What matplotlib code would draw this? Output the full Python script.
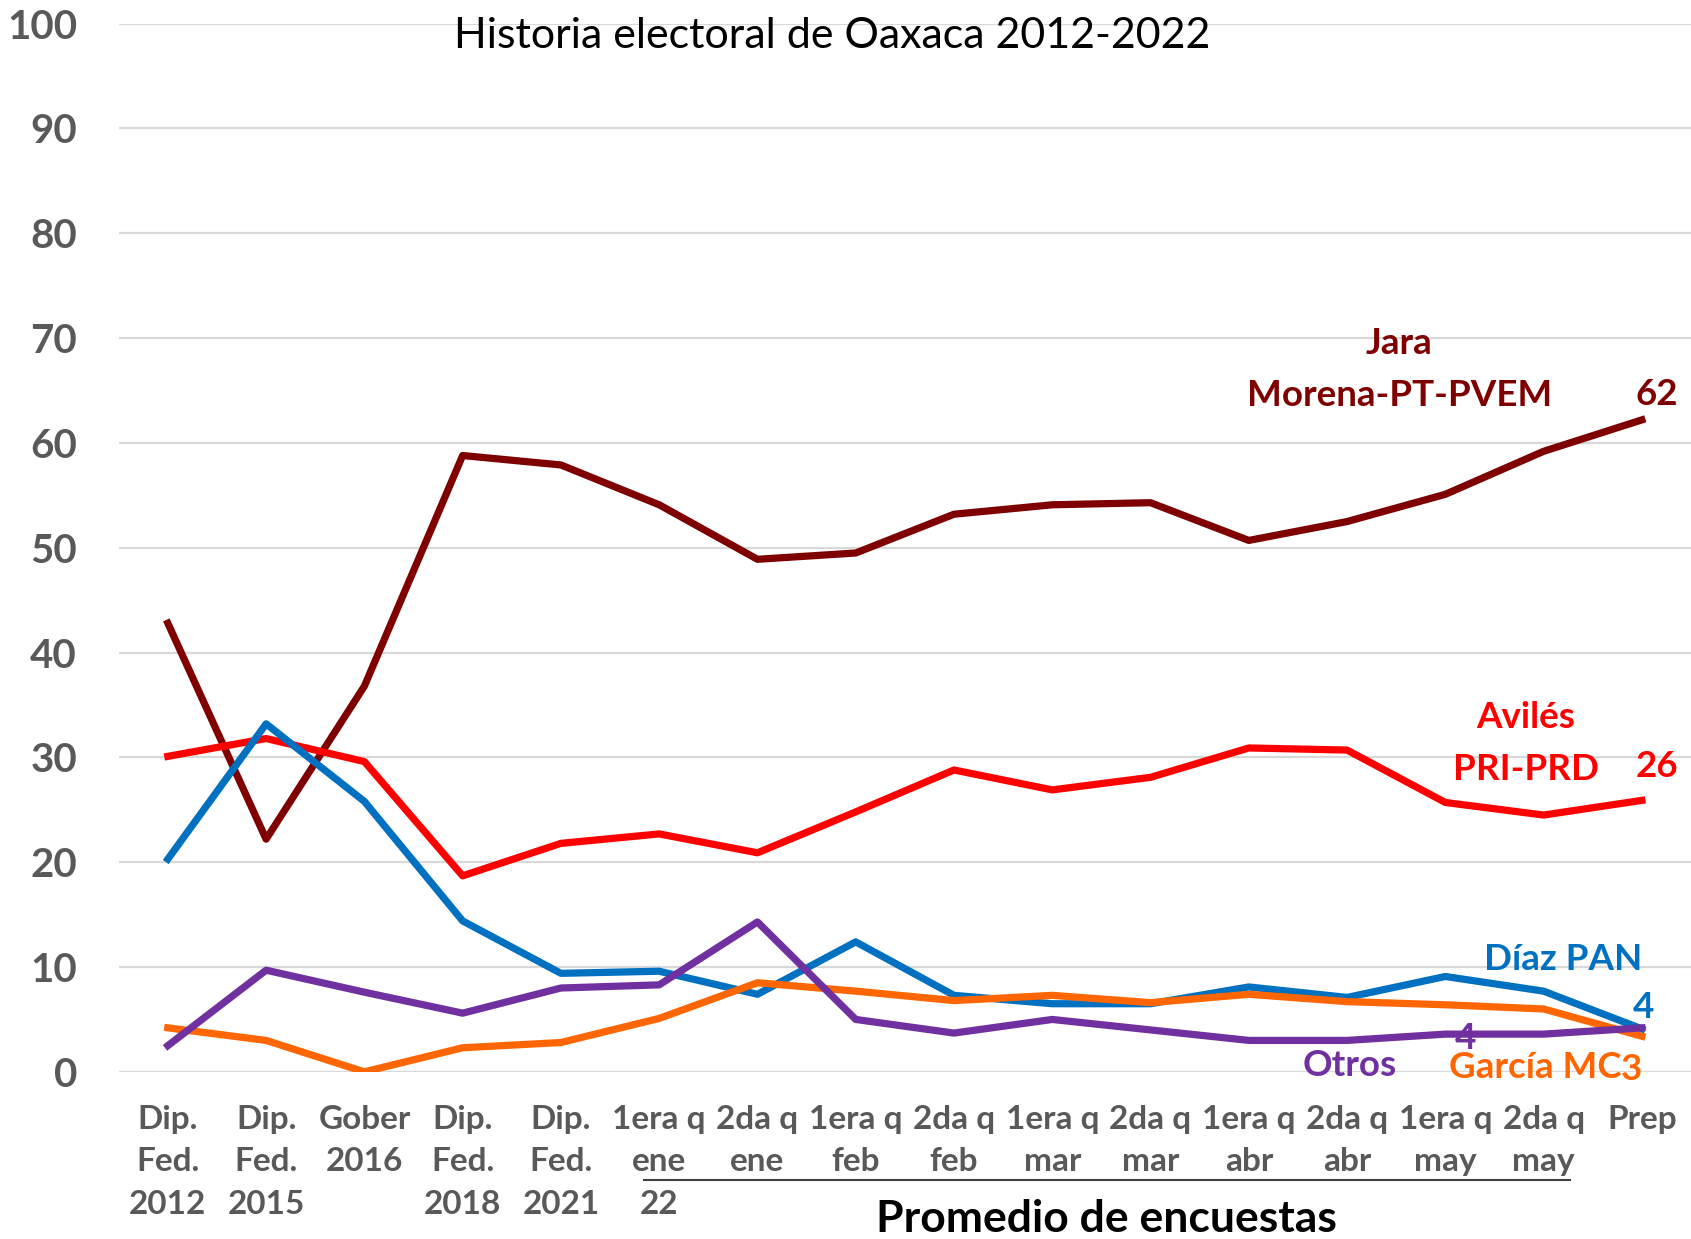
import matplotlib
matplotlib.use("Agg")
import matplotlib.pyplot as plt
import numpy as np

plt.rcParams['font.family'] = ['Lato', 'DejaVu Sans']

categories = ["Dip.\nFed.\n2012", "Dip.\nFed.\n2015", "Gober\n2016", "Dip.\nFed.\n2018",
              "Dip.\nFed.\n2021", "1era q\nene\n22", "2da q\nene", "1era q\nfeb", "2da q\nfeb",
              "1era q\nmar", "2da q\nmar", "1era q\nabr", "2da q\nabr", "1era q\nmay",
              "2da q\nmay", "Prep"]

jara = [42.8, 22.2, 36.8, 58.8, 57.9, 54.1, 48.9, 49.5, 53.2, 54.1, 54.3, 50.7, 52.5, 55.1, 59.2, 62.2]
aviles = [30.1, 31.8, 29.6, 18.7, 21.8, 22.7, 20.9, 24.8, 28.8, 26.9, 28.1, 30.9, 30.7, 25.7, 24.5, 25.9]
diaz = [20.3, 33.2, 25.8, 14.4, 9.4, 9.6, 7.4, 12.4, 7.3, 6.5, 6.5, 8.1, 7.1, 9.1, 7.7, 4.1]
otros = [2.5, 9.7, 7.6, 5.6, 8.0, 8.3, 14.3, 5.0, 3.7, 5.0, 4.0, 3.0, 3.0, 3.6, 3.6, 4.2]
garcia = [4.2, 3.0, 0.0, 2.3, 2.8, 5.1, 8.5, 7.7, 6.8, 7.3, 6.6, 7.4, 6.7, 6.4, 6.0, 3.4]

c_jara = "#7F0000"
c_aviles = "#FF0000"
c_diaz = "#0070C0"
c_otros = "#7030A0"
c_garcia = "#FF6600"

x = np.arange(len(categories))

fig = plt.figure(figsize=(16.91, 12.39), dpi=100)
ax = fig.add_axes([0.0702, 0.1349, 0.9298, 0.846])

lw = 5.2
ax.plot(x, jara, color=c_jara, lw=lw, solid_joinstyle='round', zorder=3)
ax.plot(x, aviles, color=c_aviles, lw=lw, solid_joinstyle='round', zorder=3)
ax.plot(x, diaz, color=c_diaz, lw=lw, solid_joinstyle='round', zorder=3)
ax.plot(x, otros, color=c_otros, lw=lw, solid_joinstyle='round', zorder=4)
ax.plot(x, garcia, color=c_garcia, lw=lw, solid_joinstyle='round', zorder=3)

ax.set_xlim(-0.5, len(categories) - 0.5)
ax.set_ylim(0, 100)
ax.set_yticks(range(0, 101, 10))
ax.set_xticks(x)
ax.set_xticklabels(categories, fontsize=24, fontweight='bold', color='#595959', linespacing=1.55, va='top')
ax.tick_params(axis='y', labelsize=29, labelcolor='#595959', length=0, pad=30)
ax.tick_params(axis='x', length=0, pad=24)
for t in ax.get_yticklabels():
    t.set_fontweight('bold')
ax.grid(axis='y', color='#D9D9D9', lw=1.6)
ax.set_axisbelow(True)
for s in ax.spines.values():
    s.set_visible(False)

# title
ax.text(6.76, 98.8, "Historia electoral de Oaxaca 2012-2022", fontsize=31, ha='center', va='center', color='black')

# series labels
bold = dict(fontweight='bold', fontsize=26.5)
ax.text(12.53, 67.0, "Jara\nMorena-PT-PVEM", color=c_jara, ha='center', va='center', linespacing=1.7, **bold)
ax.text(15.15, 64.6, f"{round(jara[-1])}", color=c_jara, ha='center', va='center', **bold)
ax.text(13.82, 31.3, "Avilés\nPRI-PRD", color=c_aviles, ha='center', va='center', linespacing=1.7, **bold)
ax.text(15.15, 29.1, f"{round(aviles[-1])}", color=c_aviles, ha='center', va='center', **bold)
ax.text(14.2, 10.7, "Díaz PAN", color=c_diaz, ha='center', va='center', **bold)
ax.text(15.02, 6.1, f"{round(diaz[-1])}", color=c_diaz, ha='center', va='center', **bold)
ax.text(12.03, 0.6, "Otros", color=c_otros, ha='center', va='center', **bold)
ax.text(13.21, 3.2, f"{round(otros[-1])}", color=c_otros, ha='center', va='center', **bold)
ax.text(14.79, 0.4, "García MC", color=c_garcia, ha='right', va='center', **bold)
ax.text(14.79, 0.2, f"{round(garcia[-1])}", color=c_garcia, ha='left', va='center', **bold)

# underline + caption for the poll averages
tr = ax.get_xaxis_transform()
ax.plot([4.85, 14.27], [-0.103, -0.103], color='#404040', lw=1.5, transform=tr, clip_on=False)
ax.text(9.55, -0.14, "Promedio de encuestas", transform=tr, ha='center', va='center',
        fontsize=32, fontweight='bold', color='black')

fig.savefig("out.png", dpi=100)
